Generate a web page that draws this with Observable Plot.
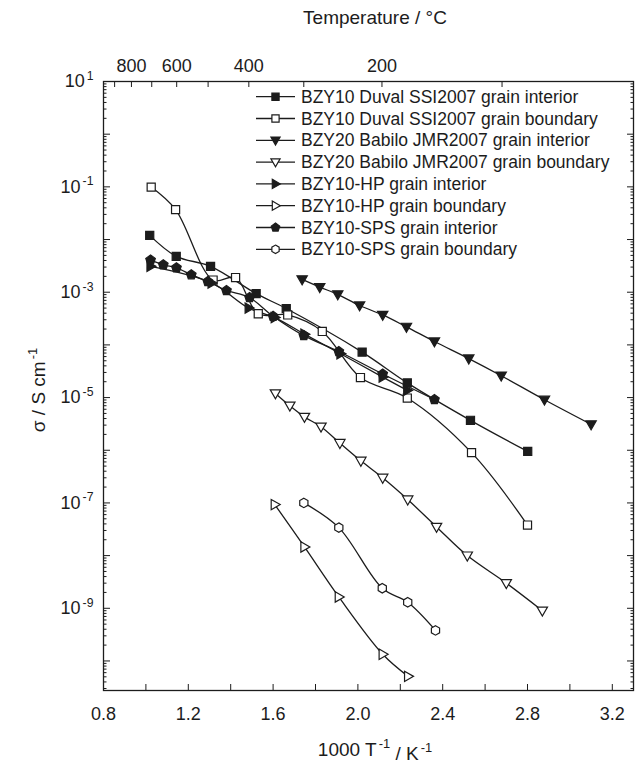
<!DOCTYPE html>
<html><head><meta charset="utf-8">
<script src="https://cdn.jsdelivr.net/npm/d3@7"></script>
<script src="https://cdn.jsdelivr.net/npm/@observablehq/plot@0.6"></script>
<style>
body{margin:0;background:#fff;}
#chart{width:641px;height:767px;}
</style></head><body><div id="chart"></div>
<script>
// ---- data (x = 1000/T in 1/K, y = conductivity in S/cm) ----
const duvalGI = [[1.018,1.2e-2],[1.143,4.8e-3],[1.305,3.1e-3],[1.520,9.4e-4],[1.662,4.9e-4],[2.020,7.3e-5],[2.233,1.9e-5],[2.531,3.7e-6],[2.801,9.5e-7]];
const duvalGB = [[1.025,9.9e-2],[1.140,3.7e-2],[1.317,1.7e-3],[1.423,1.9e-3],[1.530,3.9e-4],[1.669,3.7e-4],[1.832,1.8e-4],[2.012,2.4e-5],[2.233,9.8e-6],[2.536,9.0e-7],[2.800,3.8e-8]];
const babiloGI = [[1.737,1.75e-3],[1.820,1.25e-3],[1.905,9.1e-4],[2.008,5.6e-4],[2.117,3.7e-4],[2.229,2.2e-4],[2.361,1.16e-4],[2.523,5.5e-5],[2.676,2.6e-5],[2.880,9.1e-6],[3.100,3.1e-6]];
const babiloGB = [[1.611,1.2e-5],[1.679,7.0e-6],[1.748,4.3e-6],[1.826,2.8e-6],[1.915,1.37e-6],[2.014,6.3e-7],[2.117,3.0e-7],[2.235,1.16e-7],[2.371,3.5e-8],[2.516,1.0e-8],[2.700,3.0e-9],[2.870,9.0e-10]];
const hpGI = [[1.022,3.1e-3],[1.310,1.5e-3],[1.485,5.0e-4],[1.608,3.3e-4],[1.748,1.6e-4],[1.918,6.8e-5],[2.117,2.45e-5],[2.233,1.37e-5]];
const hpGB = [[1.608,9.3e-8],[1.748,1.46e-8],[1.910,1.64e-9],[2.117,1.34e-10],[2.237,5.1e-11]];
const spsGI = [[1.022,4.1e-3],[1.082,3.3e-3],[1.144,2.9e-3],[1.214,2.15e-3],[1.292,1.6e-3],[1.380,1.08e-3],[1.489,7.9e-4],[1.600,3.5e-4],[1.745,1.5e-4],[1.910,7.5e-5],[2.117,2.8e-5],[2.361,9.2e-6]];
const spsGB = [[1.745,1.0e-7],[1.910,3.4e-8],[2.115,2.4e-9],[2.235,1.3e-9],[2.366,3.8e-10]];

const seriesNames = [
  "BZY10 Duval SSI2007 grain interior",
  "BZY10 Duval SSI2007 grain boundary",
  "BZY20 Babilo JMR2007 grain interior",
  "BZY20 Babilo JMR2007 grain boundary",
  "BZY10-HP grain interior",
  "BZY10-HP grain boundary",
  "BZY10-SPS grain interior",
  "BZY10-SPS grain boundary"
];
const xTickValues = [0.8,1.0,1.2,1.4,1.6,1.8,2.0,2.2,2.4,2.6,2.8,3.0,3.2];
const xLabelValues = [0.8,1.2,1.6,2.0,2.4,2.8,3.2];
const tempTickValues = [900,800,700,600,500,400,300,200,100];
const tempLabelValues = [800,600,400,200];
const yLabelExponents = [1,-1,-3,-5,-7,-9];
const yDecadeExponents = [1,0,-1,-2,-3,-4,-5,-6,-7,-8,-9,-10];

// ---- symbols ----
const rad = size => Math.sqrt(size/Math.PI);
const symSquare = {draw(c,size){const r=rad(size)*0.9;c.moveTo(-r,-r);c.lineTo(r,-r);c.lineTo(r,r);c.lineTo(-r,r);c.closePath();}};
const symTriDown = {draw(c,size){const r=rad(size);c.moveTo(-1.15*r,-0.8*r);c.lineTo(1.15*r,-0.8*r);c.lineTo(0,1.2*r);c.closePath();}};
const symTriRight = {draw(c,size){const r=rad(size);c.moveTo(-0.8*r,-1.15*r);c.lineTo(1.2*r,0);c.lineTo(-0.8*r,1.15*r);c.closePath();}};
const symPent = {draw(c,size){const R=rad(size)*1.12;for(let k=0;k<5;k++){const a=-Math.PI/2+k*2*Math.PI/5;const px=R*Math.cos(a),py=R*Math.sin(a);k?c.lineTo(px,py):c.moveTo(px,py);}c.closePath();}};
const symHex = {draw(c,size){const R=rad(size)*1.05;for(let k=0;k<6;k++){const a=-Math.PI/2+k*Math.PI/3;const px=R*Math.cos(a),py=R*Math.sin(a);k?c.lineTo(px,py):c.moveTo(px,py);}c.closePath();}};

const series = [
  {data: duvalGI, symbol: symSquare, filled: true},
  {data: duvalGB, symbol: symSquare, filled: false},
  {data: babiloGI, symbol: symTriDown, filled: true},
  {data: babiloGB, symbol: symTriDown, filled: false},
  {data: hpGI, symbol: symTriRight, filled: true},
  {data: hpGB, symbol: symTriRight, filled: false},
  {data: spsGI, symbol: symPent, filled: true},
  {data: spsGB, symbol: symHex, filled: false}
].map((s,i)=>({...s, name: seriesNames[i]}));

const INK = "#1c1c1c";
const R = 4.5;
const inv = t => 1000/(t+273.15);
const yMinor = [];
for (let e=-11;e<=0;e++) for (let m=2;m<=9;m++){const v=m*Math.pow(10,e); if(v>2.75e-11 && v<10) yMinor.push(v);}
const yDecades = yDecadeExponents.map(e=>Math.pow(10,e));

const marks = [];
series.forEach(s=>marks.push(Plot.line(s.data,{x:d=>d[0],y:d=>d[1],stroke:INK,strokeWidth:1.3,curve:"catmull-rom"})));
series.forEach(s=>marks.push(Plot.dot(s.data,{x:d=>d[0],y:d=>d[1],symbol:s.symbol,r:R,fill:s.filled?INK:"white",stroke:INK,strokeWidth:1.2})));
// axes
["left","right"].forEach(a=>{
  marks.push(Plot.axisY(yDecades,{anchor:a,tickSize:-7,tickFormat:()=>"",label:null,stroke:INK}));
  marks.push(Plot.axisY(yMinor,{anchor:a,tickSize:-3.5,tickFormat:()=>"",label:null,stroke:INK}));
});
marks.push(Plot.axisY(yLabelExponents.map(e=>Math.pow(10,e)),{anchor:"left",tickSize:0,tickPadding:10,label:null,fontSize:18,fill:INK,tickFormat:d=>"10^"+Math.round(Math.log10(d))}));
marks.push(Plot.axisX(xTickValues,{anchor:"bottom",tickSize:-6,tickFormat:()=>"",label:null,stroke:INK}));
marks.push(Plot.axisX(xLabelValues,{anchor:"bottom",tickSize:0,tickPadding:17,label:null,fontSize:18,fill:INK,tickFormat:d=>d.toFixed(1)}));
marks.push(Plot.axisX(tempTickValues.map(inv),{anchor:"top",tickSize:-5,tickFormat:()=>"",label:null,stroke:INK}));
marks.push(Plot.axisX(tempLabelValues.map(inv),{anchor:"top",tickSize:0,tickPadding:10,label:null,fontSize:18,fill:INK,tickFormat:d=>String(Math.round(1000/d-273.15))}));
marks.push(Plot.frame({stroke:INK,strokeWidth:1.3}));

const plot = Plot.plot({
  width:641, height:767,
  marginTop:81, marginBottom:77, marginLeft:103, marginRight:8,
  x:{domain:[0.8,3.3], axis:null},
  y:{type:"log", domain:[2.75e-11,10], axis:null},
  style:{fontFamily:"'Liberation Sans', Arial, Helvetica, sans-serif", fontSize:"18px", color:INK, background:"white"},
  marks
});
document.getElementById("chart").appendChild(plot);

const svg = d3.select(plot);
const NS = "http://www.w3.org/2000/svg";
// superscripts for y tick labels
plot.querySelectorAll("text").forEach(t=>{
  const m = t.textContent.match(/^10\^(-?\d+)$/);
  if (m) {
    t.textContent = "10";
    const ts = document.createElementNS(NS,"tspan");
    ts.setAttribute("dy","-0.6em"); ts.setAttribute("dx","2");
    ts.setAttribute("font-size","0.68em");
    ts.textContent = m[1];
    t.appendChild(ts);
  }
});
function supText(g, parts, attrs){
  const t = g.append("text");
  Object.entries(attrs).forEach(([k,v])=>t.attr(k,v));
  parts.forEach(([s,sup])=>{
    const ts = t.append("tspan").text(s);
    if (sup) ts.attr("font-size","0.68em").attr("dy","-0.6em").attr("dx","2");
    else ts.attr("dy", t.node().childNodes.length>1 ? "0.6em" : null);
  });
  return t;
}
const cx = 375;
const lab = svg.append("g").attr("fill",INK).attr("font-family","'Liberation Sans', Arial, sans-serif").attr("font-size",19);
lab.append("text").attr("x",cx).attr("y",24).attr("text-anchor","middle").text("Temperature / °C");
supText(lab, [["1000 T"],["-1",true],[" / K"],["-1",true]], {x:cx, y:756, "text-anchor":"middle"});
supText(lab, [["σ / S cm"],["-1",true]], {transform:"translate(45,390) rotate(-90)", "text-anchor":"middle"});

// legend
const lg = svg.append("g").attr("font-family","'Liberation Sans', Arial, sans-serif").attr("font-size",17.5).attr("fill",INK).attr("text-anchor","start");
series.forEach((s,i)=>{
  const y = 96.7 + i*21.8;
  lg.append("line").attr("x1",256).attr("x2",295).attr("y1",y).attr("y2",y).attr("stroke",INK).attr("stroke-width",1.3);
  const p = d3.path(); s.symbol.draw(p, Math.PI*4*4);
  lg.append("path").attr("d",p.toString()).attr("transform",`translate(275.5,${y})`).attr("fill",s.filled?INK:"white").attr("stroke",INK).attr("stroke-width",1.2);
  lg.append("text").attr("x",301).attr("y",y+6).attr("text-anchor","start").text(s.name);
});
</script></body></html>
